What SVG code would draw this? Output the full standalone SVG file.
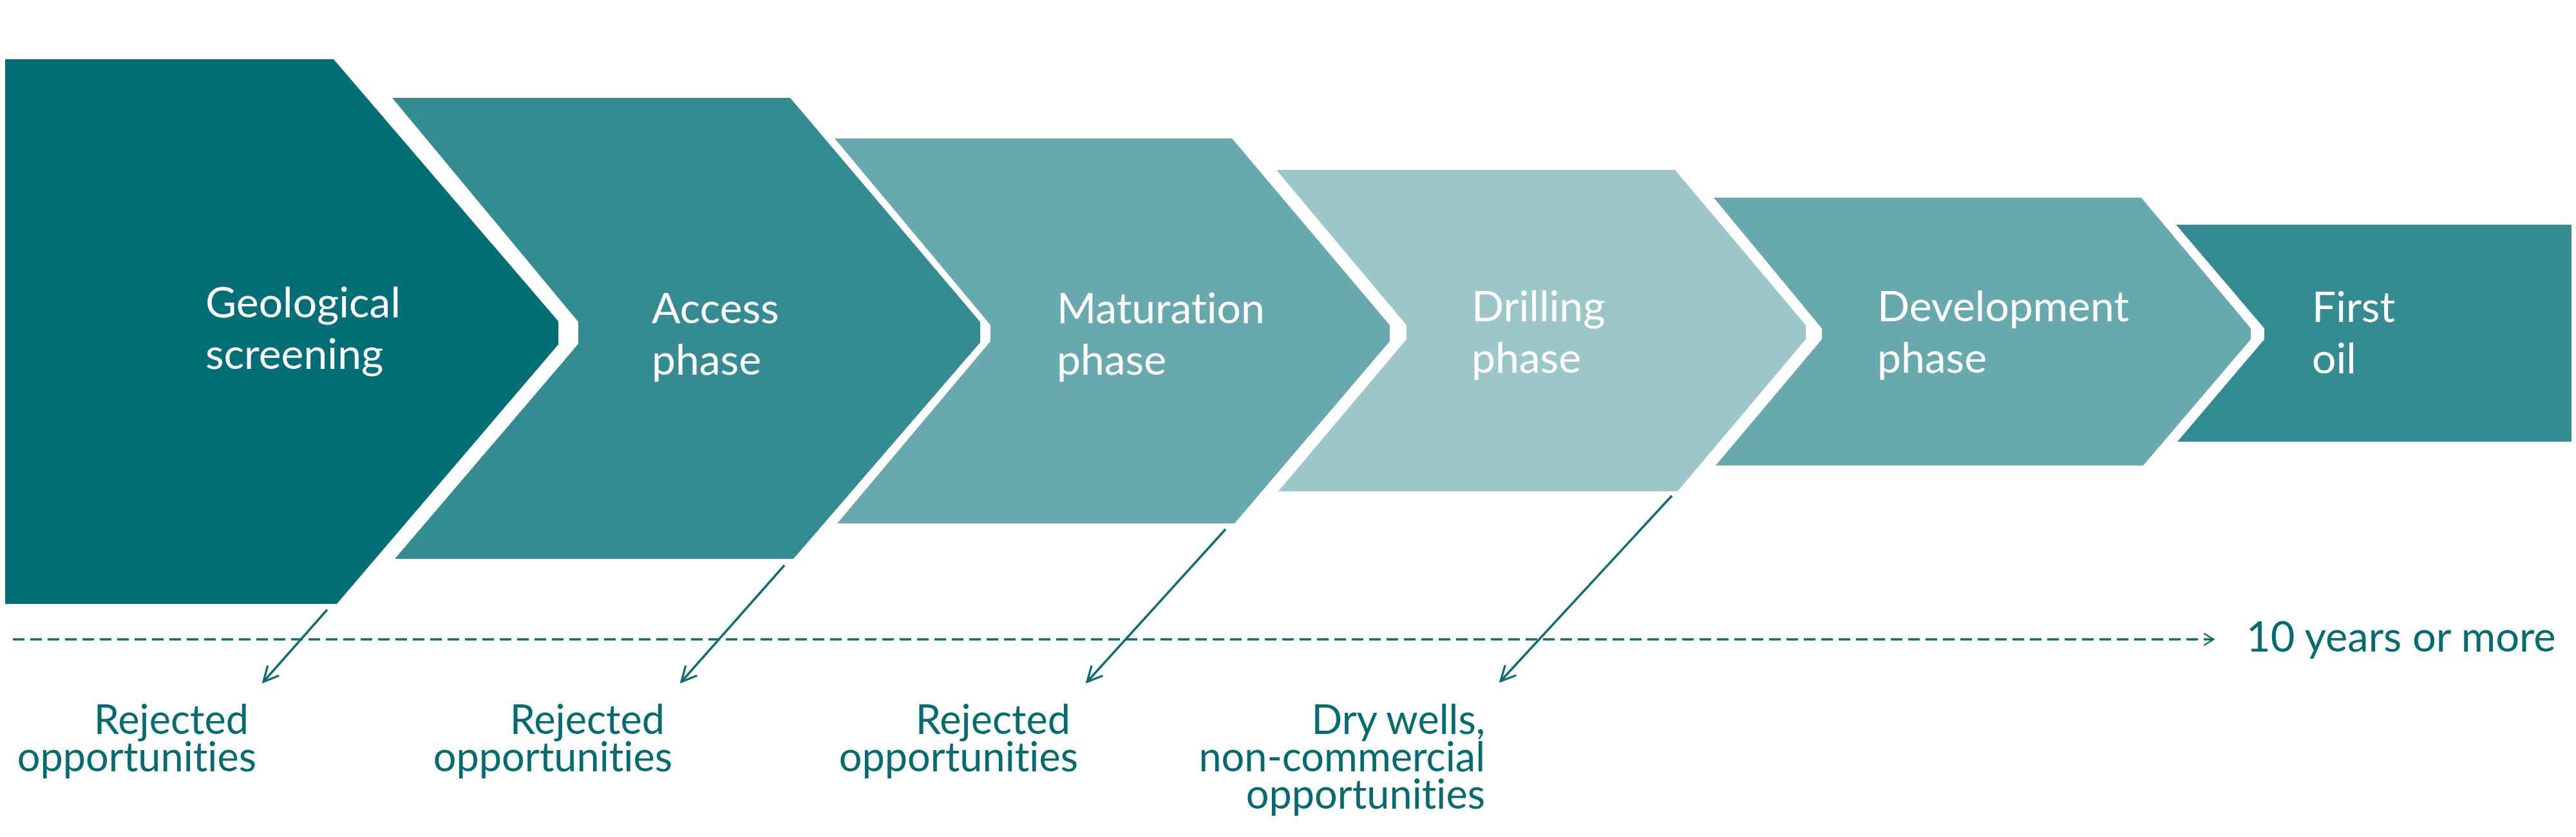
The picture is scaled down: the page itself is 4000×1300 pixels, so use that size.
<svg xmlns="http://www.w3.org/2000/svg" width="4000" height="1300" viewBox="0 0 4000 1300">
<defs>
<style>
text{font-variant-ligatures:none;font-feature-settings:"liga" 0,"clig" 0}
.phase{font-family:Lato,"Noto Sans","Liberation Sans",sans-serif;font-size:66px;fill:#ffffff}
.lbl{font-family:Lato,"Noto Sans","Liberation Sans",sans-serif;font-size:63px;fill:#046c71;text-anchor:end}
.c1{fill:#016f75}.c2{fill:#348b92}.c3{fill:#67a9ae}.c4{fill:#9cc6c9}
.conn{stroke:#0b6d72;stroke-width:3.5;fill:none}
</style>
<marker id="ah" viewBox="0 0 12 12" refX="11" refY="6" markerWidth="22" markerHeight="22" markerUnits="userSpaceOnUse" orient="auto">
<path d="M3,1 L11,6 L3,11" fill="none" stroke="#0b6d72" stroke-width="1.3"/>
</marker>
<marker id="ah2" viewBox="0 0 12 12" refX="11" refY="6" markerWidth="28" markerHeight="28" markerUnits="userSpaceOnUse" orient="auto">
<path d="M1,1 L11,6 L1,11" fill="none" stroke="#0b6d72" stroke-width="1.4"/>
</marker>
</defs>
<rect width="4000" height="1300" fill="#ffffff"/>
<g id="geological">
<polygon class="c1" points="8,92 518,92 867,499 867,535 523,938 8,938"/>
<text class="phase" x="319" y="493">Geological</text>
<text class="phase" x="319" y="573">screening</text>
</g>
<g id="access">
<polygon class="c2" points="609,152 1227,152 1522,500 1522,532 1232,868 613,868 898,534 898,500"/>
<text class="phase" x="1012" y="502">Access</text>
<text class="phase" x="1012" y="582">phase</text>
</g>
<g id="maturation">
<polygon class="c3" points="1296,215 1913,215 2158,505 2158,530 1917,813 1300,813 1538,530 1538,505"/>
<text class="phase" x="1641" y="502">Maturation</text>
<text class="phase" x="1641" y="582">phase</text>
</g>
<g id="drilling">
<polygon class="c4" points="1982,264 2601,264 2804,505 2804,527 2605,763 1985,763 2184,527 2184,505"/>
<text class="phase" x="2285" y="499">Drilling</text>
<text class="phase" x="2285" y="579">phase</text>
</g>
<g id="development">
<polygon class="c3" points="2661,307 3325,307 3495,510 3495,527 3328,723 2664,723 2829,527 2829,510"/>
<text class="phase" x="2915" y="499">Development</text>
<text class="phase" x="2915" y="579">phase</text>
</g>
<g id="first-oil">
<polygon class="c2" points="3379,349 3993,349 3993,686 3381,686 3516,527 3516,510"/>
<text class="phase" x="3590" y="500">First</text>
<text class="phase" x="3590" y="580">oil</text>
</g>
<g id="connectors">
<line class="conn" x1="20" y1="993" x2="3437" y2="993" stroke-dasharray="18 9" marker-end="url(#ah)"/>
<line class="conn" x1="508" y1="947" x2="409" y2="1059" marker-end="url(#ah2)"/>
<line class="conn" x1="1218" y1="878" x2="1058" y2="1059" marker-end="url(#ah2)"/>
<line class="conn" x1="1903" y1="822" x2="1688" y2="1059" marker-end="url(#ah2)"/>
<line class="conn" x1="2596" y1="770" x2="2330" y2="1058" marker-end="url(#ah2)"/>
</g>
<g id="timeline-label">
<text x="3488" y="1012" style="font-family:Lato,'Noto Sans','Liberation Sans',sans-serif;font-size:65px;fill:#046c71">10 years or more</text>
</g>
<g id="rejected-1">
<text class="lbl" x="386" y="1140">Rejected</text>
<text class="lbl" x="398" y="1198">opportunities</text>
</g>
<g id="rejected-2">
<text class="lbl" x="1032" y="1140">Rejected</text>
<text class="lbl" x="1044" y="1198">opportunities</text>
</g>
<g id="rejected-3">
<text class="lbl" x="1662" y="1140">Rejected</text>
<text class="lbl" x="1674" y="1198">opportunities</text>
</g>
<g id="dry-wells">
<text class="lbl" x="2306" y="1140">Dry wells,</text>
<text class="lbl" x="2306" y="1198">non-commercial</text>
<text class="lbl" x="2306" y="1256">opportunities</text>
</g>
</svg>
